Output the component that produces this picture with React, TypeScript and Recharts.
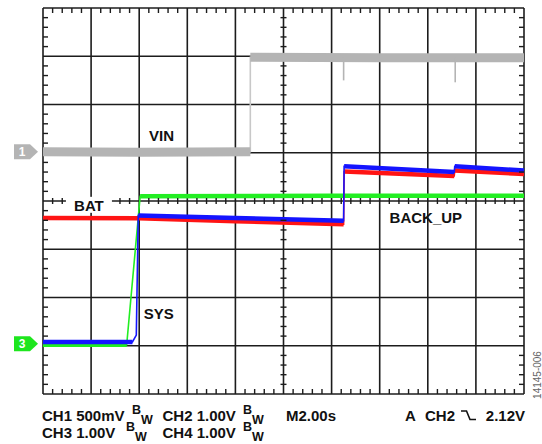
import { ComposedChart, Line, Scatter, XAxis, YAxis, CartesianGrid } from 'recharts'

type Pt = { t: number; v: number | null }

// x = time in seconds (M2.00s per div, 10 div), y = screen divisions (8 div)
const timeTicks = [0, 2, 4, 6, 8, 10, 12, 14, 16, 18, 20]
const levelTicks = [-4, -3, -2, -1, 0, 1, 2, 3, 4]

// CH1 VIN (gray)
const ch1Levels: Pt[][] = [
  [{ t: 0, v: 1.02 }, { t: 4, v: 1.01 }, { t: 8.62, v: 1.02 }],
  [{ t: 8.62, v: 2.98 }, { t: 14, v: 2.97 }, { t: 20, v: 2.97 }],
]
const ch1Dips: Pt[][] = [
  [{ t: 12.5, v: 2.97 }, { t: 12.5, v: 2.5 }],
  [{ t: 17.14, v: 2.97 }, { t: 17.14, v: 2.46 }],
]
// CH2 (red)
const ch2Levels: Pt[][] = [
  [{ t: 0, v: -0.35 }, { t: 4, v: -0.36 }, { t: 8, v: -0.42 }, { t: 12.5, v: -0.48 }],
  [{ t: 12.52, v: 0.61 }, { t: 17.1, v: 0.52 }],
  [{ t: 17.12, v: 0.63 }, { t: 20, v: 0.56 }],
]
// CH3 SYS (green)
const ch3Levels: Pt[][] = [
  [{ t: 0, v: -2.98 }, { t: 3.48, v: -2.98 }],
  [{ t: 4.04, v: 0.1 }, { t: 12, v: 0.11 }, { t: 20, v: 0.11 }],
]
// CH4 (blue)
const ch4Levels: Pt[][] = [
  [{ t: 0, v: -2.92 }, { t: 3.72, v: -2.92 }],
  [{ t: 3.88, v: -2.78 }],
  [{ t: 3.96, v: -0.3 }, { t: 8, v: -0.35 }, { t: 12.5, v: -0.41 }],
  [{ t: 12.52, v: 0.72 }, { t: 17.1, v: 0.6 }],
  [{ t: 17.12, v: 0.72 }, { t: 20, v: 0.63 }],
]

const labels = [
  { t: 4.93, v: 1.35, text: 'VIN', box: false },
  { t: 1.91, v: -0.1, text: 'BAT', box: true },
  { t: 15.92, v: -0.35, text: 'BACK_UP', box: false },
  { t: 4.81, v: -2.34, text: 'SYS', box: false },
]

const markers = [
  { t: 0, v: 1.02, ch: '1', color: '#b4b4b4' },
  { t: 0, v: -2.96, ch: '3', color: '#1ee61e' },
]

const FONT = 'Arial, "Liberation Sans", Helvetica, sans-serif'

const thin = (segs: Pt[][]) => segs.flat()
const thick = (segs: Pt[][]) =>
  segs.flatMap((s, i) => (i < segs.length - 1 ? [...s, { t: s[s.length - 1].t, v: null }] : s))

// minor graticule ticks (5 per division) on the frame and the centre cross
const tickMarks: { t: number; v: number; dir: string }[] = []
for (let i = 1; i < 50; i++) {
  if (i % 5 === 0) continue
  const t = i * 0.4
  tickMarks.push({ t, v: 4, dir: 'down' }, { t, v: -4, dir: 'up' }, { t, v: 0, dir: 'vcross' })
}
for (let i = -19; i < 20; i++) {
  if (i % 5 === 0) continue
  const v = i * 0.2
  tickMarks.push({ t: 0, v, dir: 'right' }, { t: 20, v, dir: 'left' }, { t: 10, v, dir: 'hcross' })
}

const TickMark = (p: any) => {
  const { cx, cy, payload } = p
  const s = { stroke: '#1c1c1c', strokeWidth: 1.4 }
  switch (payload.dir) {
    case 'down': return <line x1={cx} x2={cx} y1={cy} y2={cy + 5} {...s} />
    case 'up': return <line x1={cx} x2={cx} y1={cy} y2={cy - 5} {...s} />
    case 'right': return <line x1={cx} x2={cx + 5} y1={cy} y2={cy} {...s} />
    case 'left': return <line x1={cx} x2={cx - 5} y1={cy} y2={cy} {...s} />
    case 'vcross': return <line x1={cx} x2={cx} y1={cy - 3} y2={cy + 3} {...s} />
    default: return <line x1={cx - 3} x2={cx + 3} y1={cy} y2={cy} {...s} />
  }
}

const Marker = (p: any) => {
  const { cx, cy, payload } = p
  const pts = `${cx - 29},${cy - 7.5} ${cx - 13},${cy - 7.5} ${cx - 5},${cy} ${cx - 13},${cy + 7.5} ${cx - 29},${cy + 7.5}`
  return (
    <g>
      <polygon points={pts} fill={payload.color} />
      <text x={cx - 21} y={cy} textAnchor="middle" dominantBaseline="central"
        fill="#fff" fontSize={12} fontWeight={700} fontFamily={FONT}>{payload.ch}</text>
    </g>
  )
}

const TraceLabel = (p: any) => {
  const { cx, cy, payload } = p
  return (
    <g>
      {payload.box && <rect x={cx - 23} y={cy - 9} width={46} height={16} fill="#fff" />}
      <text x={cx} y={cy} textAnchor="middle" dominantBaseline="central"
        fill="#111" fontSize={15} fontWeight={700} fontFamily={FONT}>{payload.text}</text>
    </g>
  )
}

export default function App() {
  const traces = [
    { key: 'ch1', segs: ch1Levels, color: '#b4b4b4', edge: '#c8c8c8', width: 9 },
    { key: 'ch3', segs: ch3Levels, color: '#22ee22', edge: '#22ee22', width: 4.5 },
    { key: 'ch2', segs: ch2Levels, color: '#ff1414', edge: '#ff1414', width: 4.5 },
    { key: 'ch4', segs: ch4Levels, color: '#1414ff', edge: '#1414ff', width: 4.5 },
  ]
  return (
    <div style={{ position: 'absolute', left: 0, top: 0, width: 542, height: 444, background: '#fff' }}>
      <ComposedChart width={542} height={444} margin={{ top: 8, right: 18, bottom: 50, left: 43 }}>
        <CartesianGrid stroke="#1c1c1c" strokeWidth={1.6}
          verticalValues={timeTicks} horizontalValues={levelTicks} />
        <XAxis type="number" dataKey="t" domain={[0, 20]} ticks={timeTicks} hide />
        <YAxis type="number" dataKey="v" domain={[-4, 4]} ticks={levelTicks} hide />
        <Scatter data={tickMarks} shape={TickMark} isAnimationActive={false} />
        {traces.flatMap((tr) => [
          <Line key={tr.key + 'e'} data={thin(tr.segs)} dataKey="v" stroke={tr.edge} strokeWidth={1.6}
            dot={false} activeDot={false} isAnimationActive={false} type="linear" />,
          <Line key={tr.key + 'b'} data={thick(tr.segs)} dataKey="v" stroke={tr.color} strokeWidth={tr.width}
            dot={false} activeDot={false} isAnimationActive={false} type="linear" />,
        ])}
        {ch1Dips.map((d, i) => (
          <Line key={'dip' + i} data={d} dataKey="v" stroke="#b4b4b4" strokeWidth={1.6}
            dot={false} activeDot={false} isAnimationActive={false} type="linear" />
        ))}
        <Scatter data={markers} shape={Marker} isAnimationActive={false} />
        <Scatter data={labels} shape={TraceLabel} isAnimationActive={false} />
      </ComposedChart>
      <svg width={542} height={444} style={{ position: 'absolute', left: 0, top: 0, pointerEvents: 'none' }}
        fontFamily={FONT} fontWeight={700} fill="#111">
        <text x={42} y={420.5} fontSize={15}>CH1 500mV</text>
        <text x={132} y={413.5} fontSize={12.5}>B</text>
        <text x={141} y={424} fontSize={12.5}>W</text>
        <text x={162.5} y={420.5} fontSize={15}>CH2 1.00V</text>
        <text x={243} y={413.5} fontSize={12.5}>B</text>
        <text x={252} y={424} fontSize={12.5}>W</text>
        <text x={286} y={420.5} fontSize={15}>M2.00s</text>
        <text x={405} y={420.5} fontSize={15}>A</text>
        <text x={425} y={420.5} fontSize={15}>CH2</text>
        <path d="M461 411 H466.5 L470 419.5 H476" stroke="#111" strokeWidth={1.6} fill="none" />
        <text x={525} y={420.5} fontSize={15} textAnchor="end">2.12V</text>
        <text x={42} y={437.8} fontSize={15}>CH3 1.00V</text>
        <text x={126} y={430.8} fontSize={12.5}>B</text>
        <text x={135} y={441.3} fontSize={12.5}>W</text>
        <text x={162.5} y={437.8} fontSize={15}>CH4 1.00V</text>
        <text x={243} y={430.8} fontSize={12.5}>B</text>
        <text x={252} y={441.3} fontSize={12.5}>W</text>
        <text x={541} y={375} fontSize={10} fontWeight={400} fill="#666" textAnchor="middle"
          transform="rotate(-90 541 375)">14145-006</text>
      </svg>
    </div>
  )
}
